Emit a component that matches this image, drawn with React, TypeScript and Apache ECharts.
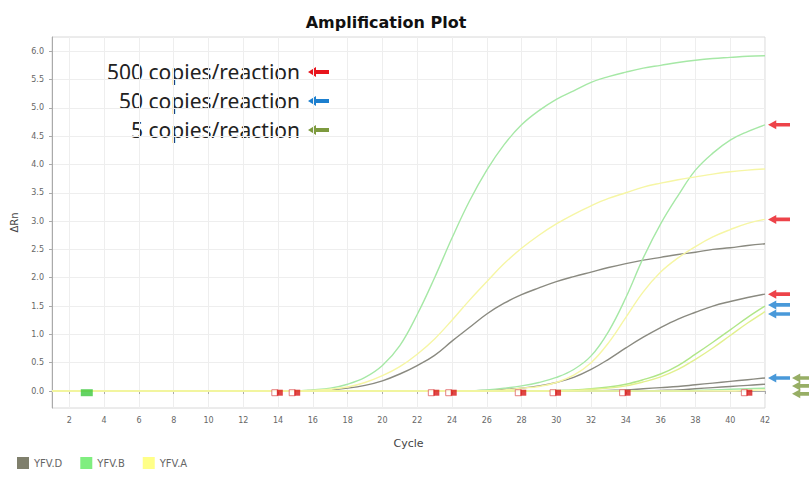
import React, { useEffect, useRef } from "react";
import * as echarts from "echarts";

// Cycle numbers on the x axis
const cycles: number[] = Array.from({ length: 42 }, (_, i) => i + 1);
const xTicks = [2, 4, 6, 8, 10, 12, 14, 16, 18, 20, 22, 24, 26, 28, 30, 32, 34, 36, 38, 40, 42];
const yTicks = [0, 0.5, 1, 1.5, 2, 2.5, 3, 3.5, 4, 4.5, 5, 5.5, 6];

// Each curve: baseline (0) until startCycle, then read values
const bEarlyStart = 16;
const bEarly = [0.02, 0.05, 0.12, 0.24, 0.45, 0.8, 1.35, 2.0, 2.7, 3.35, 3.9, 4.35, 4.7, 4.95, 5.15, 5.3, 5.45, 5.55, 5.63, 5.7, 5.75, 5.8, 5.84, 5.87, 5.89, 5.91, 5.92];
const aEarlyStart = 16;
const aEarly = [0.01, 0.03, 0.07, 0.15, 0.27, 0.43, 0.65, 0.92, 1.25, 1.6, 1.93, 2.25, 2.52, 2.75, 2.95, 3.12, 3.27, 3.4, 3.5, 3.6, 3.67, 3.73, 3.78, 3.83, 3.87, 3.9, 3.92];
const dEarlyStart = 16;
const dEarly = [0.01, 0.02, 0.05, 0.1, 0.18, 0.3, 0.45, 0.63, 0.88, 1.12, 1.36, 1.55, 1.7, 1.82, 1.93, 2.02, 2.1, 2.18, 2.25, 2.31, 2.36, 2.41, 2.45, 2.5, 2.53, 2.57, 2.6];
const b500Start = 26;
const b500 = [0.02, 0.05, 0.09, 0.15, 0.24, 0.38, 0.62, 1.05, 1.65, 2.35, 2.95, 3.45, 3.9, 4.2, 4.43, 4.58, 4.7];
const a500Start = 27;
const a500 = [0.02, 0.05, 0.08, 0.15, 0.28, 0.5, 0.85, 1.3, 1.75, 2.1, 2.35, 2.55, 2.72, 2.85, 2.96, 3.03];
const d500Start = 26;
const d500 = [0.01, 0.03, 0.05, 0.09, 0.15, 0.24, 0.38, 0.56, 0.76, 0.95, 1.12, 1.27, 1.39, 1.5, 1.58, 1.65, 1.71];
const b50Start = 30;
const b50 = [0.01, 0.02, 0.04, 0.07, 0.12, 0.2, 0.3, 0.45, 0.65, 0.86, 1.08, 1.3, 1.5];
const a50Start = 31;
const a50 = [0.01, 0.03, 0.05, 0.09, 0.16, 0.25, 0.38, 0.56, 0.76, 0.98, 1.2, 1.4];
const d50Start = 33;
const d50 = [0.01, 0.02, 0.04, 0.06, 0.08, 0.11, 0.14, 0.17, 0.2, 0.23];
const d5Start = 36;
const d5 = [0.01, 0.02, 0.04, 0.06, 0.08, 0.1, 0.12];
const b5Start = 38;
const b5 = [0.01, 0.02, 0.03, 0.04, 0.05];
const a5Start = 41;
const a5 = [0.01, 0.02];

// Ct markers on the baseline
const ctRed = [14.1, 15.1, 23.1, 24.1, 28.1, 30.1, 34.1, 41.1];
const ctGreen = [3.0];

// Arrow annotations at the last cycle
const redArrowY = [4.7, 3.03, 1.71];
const blueArrowY = [1.52, 1.36, 0.23];
const greenArrowY = [0.23, 0.09, -0.05];

const annotations = ["500 copies/reaction", "50 copies/reaction", "5 copies/reaction"];

const COLORS = {
  D: "#8a8a80",
  B: "#a6e8a6",
  A: "#f6f6a4",
  legendD: "#7f7f6c",
  legendB: "#80ee80",
  legendA: "#ffff88",
  red: "#e8141c",
  blue: "#1c7fcf",
  green: "#7d9a3e",
};

function build(start: number, vals: number[]): number[][] {
  return cycles.map((c) => {
    const idx = c - start;
    return [c, idx >= 0 ? vals[idx] : 0];
  });
}

const ARROW = "path://M0,5L9,0L9,3L24,3L24,7L9,7L9,10Z";

export default function App() {
  const ref = useRef<HTMLDivElement>(null);
  useEffect(() => {
    document.body.style.margin = "0";
    if (!ref.current) return;
    const chart = echarts.init(ref.current, null, { renderer: "svg" });

    const line = (name: string, color: string, start: number, vals: number[], z = 2) => ({
      type: "line",
      name,
      data: build(start, vals),
      smooth: 0.4,
      showSymbol: false,
      symbol: "none",
      z,
      lineStyle: { color, width: 1.4 },
      itemStyle: { color },
    });

    const arrows = (data: number[], color: string, off: number) => ({
      type: "scatter",
      data: data.map((y) => [42, y]),
      symbol: ARROW,
      symbolSize: [22, 9],
      symbolOffset: [off, 0],
      itemStyle: { color },
      clip: false,
      silent: true,
      z: 10,
    });

    const annotationColors = [COLORS.red, COLORS.blue, COLORS.green];
    const graphic: any[] = [];
    annotations.forEach((t, i) => {
      const y = 72 + i * 29;
      graphic.push({
        type: "text",
        x: 300,
        y,
        style: {
          text: t,
          font: '21px "Noto Sans"',
          fill: "#222",
          textAlign: "right",
          textVerticalAlign: "middle",
        },
      });
      graphic.push({
        type: "polygon",
        shape: {
          points: [
            [308, y],
            [316, y - 5],
            [316, y - 2],
            [329, y - 2],
            [329, y + 2],
            [316, y + 2],
            [316, y + 5],
          ],
        },
        style: { fill: annotationColors[i] },
      });
    });
    graphic.push({
      type: "text",
      x: 386,
      y: 22,
      style: {
        text: "Amplification Plot",
        font: 'bold 16px "DejaVu Sans"',
        fill: "#111",
        textAlign: "center",
        textVerticalAlign: "middle",
      },
    });

    chart.setOption({
      animation: false,
      backgroundColor: "#fff",
      grid: { left: 52, right: 44, top: 37, bottom: 92, show: true, borderColor: "#d8d8d8", borderWidth: 1 },
      legend: {
        left: 12,
        top: 452,
        icon: "rect",
        itemWidth: 12,
        itemHeight: 12,
        itemGap: 18,
        data: [
          { name: "YFV.D", itemStyle: { color: COLORS.legendD } },
          { name: "YFV.B", itemStyle: { color: COLORS.legendB } },
          { name: "YFV.A", itemStyle: { color: COLORS.legendA } },
        ],
        textStyle: { color: "#666", fontSize: 10, fontFamily: "DejaVu Sans" },
      },
      xAxis: {
        type: "value",
        min: 1,
        max: 42,
        name: "Cycle",
        nameLocation: "middle",
        nameGap: 30,
        nameTextStyle: { color: "#444", fontSize: 11, fontFamily: "DejaVu Sans" },
        axisLine: { lineStyle: { color: "#aaa" } },
        axisTick: { customValues: xTicks, length: 3, lineStyle: { color: "#aaa" } },
        axisLabel: { customValues: xTicks, color: "#666", fontSize: 8, fontFamily: "DejaVu Sans", margin: 8 },
        splitLine: { show: true, lineStyle: { color: "#eeeeee" } },
      },
      yAxis: {
        type: "value",
        min: -0.3,
        max: 6.25,
        name: "ΔRn",
        nameLocation: "middle",
        nameGap: 33,
        nameTextStyle: { color: "#444", fontSize: 10, fontFamily: "DejaVu Sans" },
        axisLine: { show: true, lineStyle: { color: "#aaa" } },
        axisTick: { show: true, customValues: yTicks, length: 3, lineStyle: { color: "#aaa" } },
        axisLabel: {
          customValues: yTicks,
          color: "#666",
          fontSize: 8,
          fontFamily: "DejaVu Sans",
          formatter: (v: number) => v.toFixed(1),
        },
        splitLine: { show: true, lineStyle: { color: "#eeeeee" } },
      },
      graphic,
      series: [
        line("YFV.D", COLORS.D, dEarlyStart, dEarly),
        line("YFV.D", COLORS.D, d500Start, d500),
        line("YFV.D", COLORS.D, d50Start, d50),
        line("YFV.D", COLORS.D, d5Start, d5),
        line("YFV.B", COLORS.B, bEarlyStart, bEarly),
        line("YFV.B", COLORS.B, b500Start, b500),
        line("YFV.B", "#b0e688", b50Start, b50),
        line("YFV.B", COLORS.B, b5Start, b5),
        line("YFV.A", COLORS.A, aEarlyStart, aEarly),
        line("YFV.A", COLORS.A, a500Start, a500),
        line("YFV.A", "#e2f08e", a50Start, a50),
        line("YFV.A", COLORS.A, a5Start, a5),
        {
          type: "scatter",
          data: ctRed.map((x) => [x, -0.03]),
          symbol: "rect",
          symbolSize: [6, 6],
          symbolOffset: [-5, 0],
          itemStyle: { color: "#fff", borderColor: "#e06060", borderWidth: 1 },
          z: 8,
          silent: true,
        },
        {
          type: "scatter",
          data: ctRed.map((x) => [x, -0.03]),
          symbol: "rect",
          symbolSize: [6, 6],
          itemStyle: { color: "#d81818" },
          z: 9,
          silent: true,
        },
        {
          type: "scatter",
          data: ctGreen.map((x) => [x, -0.03]),
          symbol: "rect",
          symbolSize: [12, 7],
          itemStyle: { color: "#3cc83c" },
          z: 9,
          silent: true,
        },
        arrows(redArrowY, COLORS.red, 14),
        arrows(blueArrowY, COLORS.blue, 14),
        arrows(greenArrowY, COLORS.green, 38),
      ],
    });
    return () => chart.dispose();
  }, []);
  return <div ref={ref} style={{ width: 809, height: 500 }} />;
}
